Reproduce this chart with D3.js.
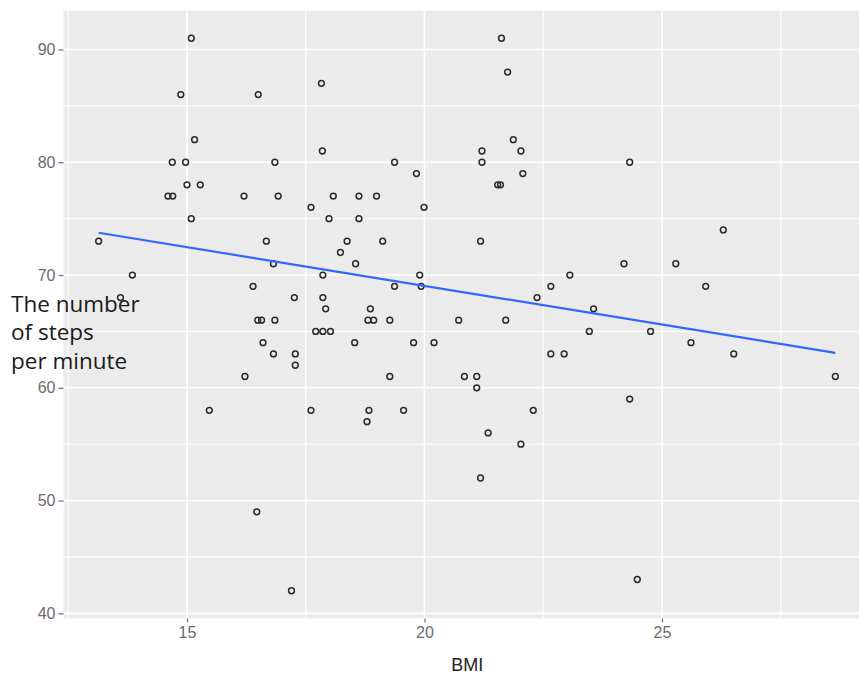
<!DOCTYPE html>
<html>
<head>
<meta charset="utf-8">
<script src="https://cdn.jsdelivr.net/npm/d3@7"></script>
<style>
body { margin: 0; background: #fff; }
</style>
</head>
<body>
<div id="vis"></div>
<script>
var w = 859;
var h = 675;

// data
var bmi = [15.09, 14.87, 16.50, 15.16, 14.69, 14.97, 16.85, 15.00, 15.28, 14.60,
	14.70, 16.20, 16.92, 15.09, 13.14, 16.67, 16.82, 13.85, 16.39, 17.26,
	13.60, 16.49, 16.57, 16.85, 16.60, 16.82, 17.28, 17.28, 16.22, 15.47,
	16.47, 17.20, 21.62, 21.75, 17.83, 21.87, 17.85, 21.21, 22.03, 19.37,
	21.21, 19.83, 22.07, 21.54, 21.60, 18.08, 18.62, 18.99, 17.61, 19.99,
	17.99, 18.62, 18.37, 19.12, 21.18, 18.23, 18.55, 17.86, 19.90, 23.06,
	17.86, 19.37, 19.93, 22.66, 22.37, 17.92, 18.86, 18.81, 18.93, 19.27,
	20.72, 21.71, 17.71, 17.86, 18.02, 18.53, 19.77, 20.20, 22.66, 22.94,
	19.27, 20.84, 21.10, 21.10, 17.61, 18.83, 19.56, 22.29, 18.79, 21.34,
	22.03, 21.18, 24.32, 26.29, 24.20, 25.29, 25.92, 23.56, 23.47, 24.76,
	25.61, 26.51, 28.65, 24.32, 24.48];
var steps = [91, 86, 86, 82, 80, 80, 80, 78, 78, 77,
	77, 77, 77, 75, 73, 73, 71, 70, 69, 68,
	68, 66, 66, 66, 64, 63, 63, 62, 61, 58,
	49, 42, 91, 88, 87, 82, 81, 81, 81, 80,
	80, 79, 79, 78, 78, 77, 77, 77, 76, 76,
	75, 75, 73, 73, 73, 72, 71, 70, 70, 70,
	68, 69, 69, 69, 68, 67, 67, 66, 66, 66,
	66, 66, 65, 65, 65, 64, 64, 64, 63, 63,
	61, 61, 61, 60, 58, 58, 58, 58, 57, 56,
	55, 52, 80, 74, 71, 71, 69, 67, 65, 65,
	64, 63, 61, 59, 43];

// fitted line (lm) ends
var fitBmi = [13.14, 28.65];
var fitSteps = [73.75, 63.1];

var xTicks = [15, 20, 25];
var xMinor = [12.5, 17.5, 22.5, 27.5];
var yTicks = [40, 50, 60, 70, 80, 90];
var yMinor = [45, 55, 65, 75, 85];

var yTitle = ["The number", "of steps", "per minute"];
var xTitle = "BMI";

var svg = d3.select("#vis")
	.append("svg")
	.attr("width", w)
	.attr("height", h);

var x = d3.scaleLinear().domain([12.4, 29.4]).range([63.5, 871]);
var y = d3.scaleLinear().domain([39.55, 93.45]).range([618.4, 10.6]);

//panel
svg.append("rect")
	.attr("x", x.range()[0])
	.attr("y", y.range()[1])
	.attr("width", x.range()[1] - x.range()[0])
	.attr("height", y.range()[0] - y.range()[1])
	.attr("fill", "#ebebeb");

//hulplijnen
svg.selectAll(".yminor")
	.data(yMinor)
	.enter()
	.append("line")
	.attr("x1", x.range()[0])
	.attr("x2", x.range()[1])
	.attr("y1", function(d) { return y(d); })
	.attr("y2", function(d) { return y(d); })
	.attr("stroke", "#fff")
	.attr("stroke-width", 1);

svg.selectAll(".xminor")
	.data(xMinor)
	.enter()
	.append("line")
	.attr("y1", y.range()[0])
	.attr("y2", y.range()[1])
	.attr("x1", function(d) { return x(d); })
	.attr("x2", function(d) { return x(d); })
	.attr("stroke", "#fff")
	.attr("stroke-width", 1);

svg.selectAll(".ymajor")
	.data(yTicks)
	.enter()
	.append("line")
	.attr("x1", x.range()[0])
	.attr("x2", x.range()[1])
	.attr("y1", function(d) { return y(d); })
	.attr("y2", function(d) { return y(d); })
	.attr("stroke", "#fff")
	.attr("stroke-width", 1.6);

svg.selectAll(".xmajor")
	.data(xTicks)
	.enter()
	.append("line")
	.attr("y1", y.range()[0])
	.attr("y2", y.range()[1])
	.attr("x1", function(d) { return x(d); })
	.attr("x2", function(d) { return x(d); })
	.attr("stroke", "#fff")
	.attr("stroke-width", 1.6);

//assen
var xAxis = svg.append("g")
	.attr("transform", "translate(0," + y.range()[0] + ")")
	.call(d3.axisBottom(x).tickValues(xTicks).tickSize(4).tickPadding(4));
var yAxis = svg.append("g")
	.attr("transform", "translate(" + x.range()[0] + ",0)")
	.call(d3.axisLeft(y).tickValues(yTicks).tickSize(5).tickPadding(3));

svg.selectAll(".domain").remove();
svg.selectAll(".tick line").attr("stroke", "#7a7a7a").attr("stroke-width", 1.3);
svg.selectAll(".tick text")
	.attr("fill", "#6a6a6a")
	.style("font-family", "'Liberation Sans', Arial, sans-serif")
	.style("font-size", "16px");

//bolletjes
svg.selectAll("circle")
	.data(bmi)
	.enter()
	.append("circle")
	.attr("cx", function(d) { return x(d); })
	.attr("cy", function(d, i) { return y(steps[i]); })
	.attr("r", 2.9)
	.attr("fill", "none")
	.attr("stroke", "#2b2b2b")
	.attr("stroke-width", 1.5);

//regressielijn
svg.append("path")
	.datum(fitBmi)
	.attr("d", d3.line()
		.x(function(d) { return x(d); })
		.y(function(d, i) { return y(fitSteps[i]); }))
	.attr("fill", "none")
	.attr("stroke", "#3366ff")
	.attr("stroke-width", 2.2);

//aslabels
svg.append("text")
	.text(xTitle)
	.attr("x", (x.range()[0] + x.range()[1]) / 2)
	.attr("y", 671)
	.attr("text-anchor", "middle")
	.attr("fill", "#222")
	.style("font-family", "'Liberation Sans', Arial, sans-serif")
	.style("font-size", "18px");

svg.selectAll(".ytitle")
	.data(yTitle)
	.enter()
	.append("text")
	.attr("class", "ytitle")
	.text(function(d) { return d; })
	.attr("x", 11)
	.attr("y", function(d, i) { return 311.5 + i * 28.5; })
	.attr("fill", "#1a1a1a")
	.style("font-family", "'Open Sans', sans-serif")
	.style("font-size", "22.5px");
</script>
</body>
</html>
